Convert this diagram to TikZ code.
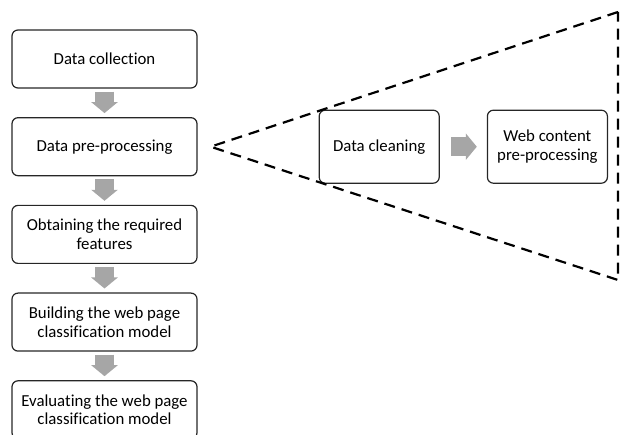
\documentclass[tikz,border=0pt]{standalone}
\usepackage{fontspec}
\setmainfont[Ligatures=NoCommon]{Carlito}
\usepackage{xcolor}
\usepackage{tikz}
\usetikzlibrary{arrows.meta,positioning,calc}
\definecolor{arrowgray}{RGB}{166,166,166}
\newcommand{\stagefont}{\fontsize{16.8}{18.5}\selectfont}
\tikzset{
  stage/.style={draw=black!85, line width=1.2pt, rounded corners=6pt, align=center,
                minimum width=185pt, minimum height=58pt,
                inner sep=0pt, font=\stagefont},
  substage/.style={stage, minimum width=120pt, minimum height=73pt},
  flowarrow/.style={draw=arrowgray, line width=19pt,
                    -{Triangle[width=26pt,length=11pt]}},
  zoomline/.style={line width=2.2pt, dash pattern=on 11pt off 7pt}
}

\begin{document}
\begin{tikzpicture}[node distance=28.5pt and 121pt]
\useasboundingbox (0,0) rectangle (622pt,-435pt);
\node[stage] (collect) at (104.5pt,-59pt) {Data collection};
\node[stage, below=of collect] (pre) {Data pre-processing};
\node[stage, below=of pre] (feat) {Obtaining the required\\features};
\node[stage, below=of feat] (build) {Building the web page\\classification model};
\node[stage, below=of build] (eval) {Evaluating the web page\\classification model};
\draw[flowarrow, shorten <=3pt, shorten >=4pt] (collect) -- (pre);
\draw[flowarrow, shorten <=3pt, shorten >=4pt] (pre) -- (feat);
\draw[flowarrow, shorten <=3pt, shorten >=4pt] (feat) -- (build);
\draw[flowarrow, shorten <=3pt, shorten >=4pt] (build) -- (eval);
% zoom into the pre-processing step
\node[substage, right=of pre] (clean) {Data cleaning};
\node[substage, right=47pt of clean] (webpre) {Web content\\pre-processing};
\draw[flowarrow, shorten <=11pt, shorten >=10pt] (clean) -- (webpre);
\coordinate (apex) at ([xshift=13pt]pre.east);
\coordinate (top) at (618pt,-12pt);
\coordinate (bottom) at (618pt,-280pt);
\draw[zoomline] (top) -- (apex) -- (bottom) -- (top);
\end{tikzpicture}
\end{document}
